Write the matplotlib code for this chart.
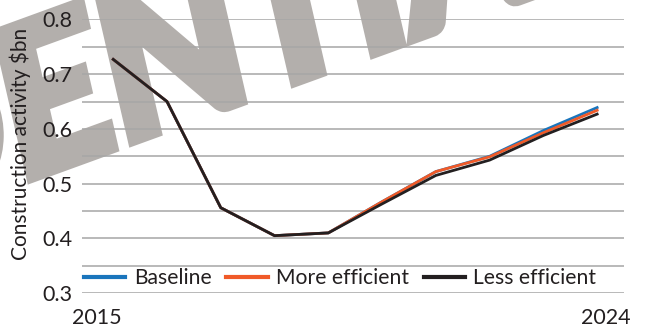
import matplotlib
matplotlib.use('Agg')
import matplotlib.pyplot as plt
import matplotlib.patheffects as pe

years = ['2015', '2016', '2017', '2018', '2019', '2020', '2021', '2022', '2023', '2024']
baseline = [0.727, 0.650, 0.456, 0.405, 0.410, 0.467, 0.522, 0.550, 0.597, 0.639]
more_efficient = [0.727, 0.650, 0.456, 0.405, 0.410, 0.467, 0.522, 0.549, 0.593, 0.634]
less_efficient = [0.727, 0.650, 0.456, 0.405, 0.410, 0.463, 0.515, 0.543, 0.588, 0.627]
grid_levels = [0.30, 0.35, 0.40, 0.45, 0.50, 0.55, 0.60, 0.65, 0.70, 0.75, 0.80]

plt.rcParams['font.family'] = ['Lato', 'DejaVu Sans']

fig = plt.figure(figsize=(6.46, 3.29), dpi=100)
ax = fig.add_axes([0.127, 0.109, 0.839, 0.832])
ax.patch.set_visible(False)

# heavy grey stamp behind the chart; the stroke fattens the glyphs
grey = '#b3afac'
stamp = dict(color=grey, fontsize=145, fontweight='bold', style='italic',
             family=['Lato', 'DejaVu Sans'], rotation=20,
             rotation_mode='anchor', va='baseline', zorder=-5,
             path_effects=[pe.withStroke(linewidth=9, foreground=grey,
                                         joinstyle='miter')])
fig.text(25 / 646, 1 - 179 / 329, 'ENTIAL', ha='left', **stamp)
fig.text(25 / 646, 1 - 179 / 329, 'CONFID', ha='right', **stamp)

x = list(range(len(years)))
ax.plot(x, baseline, color='#1a75bc', lw=2.0, label='Baseline', zorder=3)
ax.plot(x, more_efficient, color='#f05a28', lw=2.0, label='More efficient', zorder=4)
ax.plot(x, less_efficient, color='#231f20', lw=2.0, label='Less efficient', zorder=5)

ax.set_xlim(-0.58, 9.5)
ax.set_ylim(0.3, 0.8)
ax.set_yticks(grid_levels)
ax.set_yticklabels(['%.1f' % v if round(v * 100) % 10 == 0 else '' for v in grid_levels])
ax.grid(axis='y', color='#a6a6a6', lw=1.1, zorder=0)
ax.set_axisbelow(True)
ax.set_xticks([-0.3, 9.17])
ax.set_xticklabels([years[0], years[-1]])
ax.tick_params(axis='both', length=0, labelsize=15.5, colors='#231f20')
ax.tick_params(axis='y', pad=7)
ax.tick_params(axis='x', pad=11)
for s in ax.spines.values():
    s.set_visible(False)

ax.set_ylabel('Construction activity $bn', fontsize=15, color='#231f20')
ax.yaxis.set_label_coords(-0.094, 0.544)

leg = ax.legend(loc='center left', bbox_to_anchor=(0.004, 0.055), ncol=3,
                frameon=False, fontsize=15.2, handlelength=1.95, handletextpad=0.4,
                columnspacing=0.7, borderpad=0, borderaxespad=0)
for h in leg.get_lines():
    h.set_linewidth(3)
for t in leg.get_texts():
    t.set_color('#231f20')

fig.savefig('out.png', dpi=100)
